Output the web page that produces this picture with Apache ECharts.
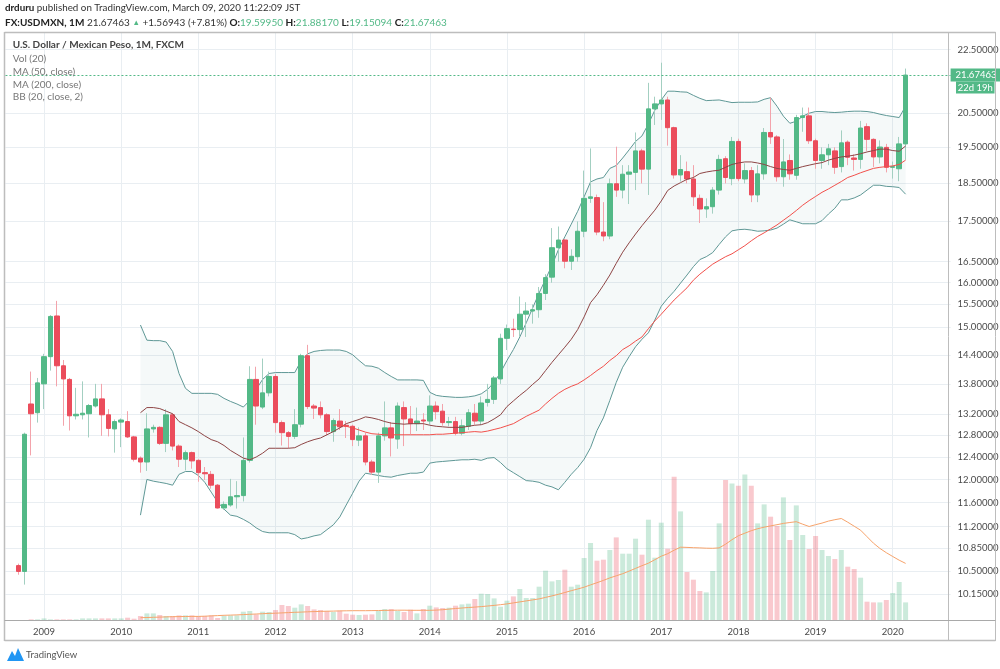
<!DOCTYPE html>
<html><head><meta charset="utf-8">
<script src="https://cdn.jsdelivr.net/npm/echarts@6/dist/echarts.min.js"></script>
<style>html,body{margin:0;padding:0;background:#fff}#c{width:1000px;height:669px}</style>
</head><body><div id="c"></div>
<script>
// ---------------- DATA (monthly USD/MXN, FXCM) ----------------
const firstMonth = '2008-09';
const opens = [10.58,10.49,13.40,13.23,13.80,14.36,15.24,14.17,13.89,13.17,
 13.19,13.21,13.36,13.50,13.19,12.92,13.05,13.06,12.77,12.38,
 12.31,12.92,12.95,12.65,13.19,12.60,12.36,12.48,12.34,12.12,
 12.09,11.90,11.51,11.56,11.70,11.72,12.34,13.89,13.34,13.62,
 13.95,13.04,12.85,12.78,13.01,14.38,13.36,13.33,13.19,12.87,
 13.07,12.99,12.97,12.71,12.79,12.31,12.13,12.79,12.94,12.73,
 13.33,13.11,13.02,13.09,13.07,13.36,13.26,13.04,13.06,12.84,
 12.97,13.22,13.07,13.43,13.49,13.90,14.75,14.95,14.94,15.28,
 15.35,15.38,15.75,16.13,16.84,17.03,16.51,16.62,17.25,18.10,
 18.12,17.23,17.13,18.49,18.32,18.75,18.80,19.40,18.89,20.63,
 20.78,20.90,20.07,18.73,18.82,18.62,18.10,17.82,17.88,18.32,
 19.18,18.63,19.67,18.62,18.85,18.19,18.76,19.93,19.80,18.68,
 19.13,18.72,20.37,20.42,19.69,19.13,19.29,19.40,18.96,19.65,
 19.20,19.16,20.10,19.73,19.23,19.50,18.94,18.90,19.5995];
const closes = [10.49,12.82,13.21,13.82,14.36,15.23,14.17,13.90,13.17,13.20,
 13.22,13.37,13.50,13.19,12.93,13.06,13.09,12.77,12.36,12.31,
 12.92,12.95,12.65,13.19,12.60,12.36,12.48,12.33,12.12,12.10,
 11.90,11.51,11.57,11.70,11.72,12.34,13.89,13.36,13.62,13.95,
 13.04,12.85,12.78,13.00,14.38,13.35,13.32,13.19,12.87,13.08,
 12.96,12.97,12.72,12.79,12.31,12.13,12.79,12.94,12.75,13.36,
 13.11,13.02,13.07,13.07,13.36,13.25,13.04,13.06,12.84,12.98,
 13.23,13.07,13.42,13.49,13.92,14.75,14.96,14.94,15.28,15.35,
 15.38,15.75,16.12,16.84,17.03,16.51,16.63,17.25,18.10,18.14,
 17.23,17.13,18.49,18.32,18.75,18.81,19.40,18.89,20.63,20.78,
 20.90,20.07,18.73,18.88,18.62,18.14,17.82,17.88,18.32,19.16,
 18.66,19.67,18.63,18.85,18.19,18.76,19.93,19.80,18.68,19.09,
 18.76,20.37,20.42,19.69,19.13,19.29,19.46,18.94,19.63,19.22,
 19.16,20.06,19.73,19.23,19.51,18.94,18.96,19.60,21.67463];
const lows = [10.44,10.29,12.43,13.04,13.30,14.07,13.75,12.98,12.89,13.10,
 13.10,12.76,13.33,12.79,12.78,12.48,12.58,12.75,12.32,12.12,
 12.15,12.85,12.62,12.49,12.52,12.22,12.16,12.19,11.96,11.99,
 11.84,11.50,11.48,11.53,11.50,11.62,12.30,13.00,13.30,13.55,
 12.85,12.61,12.56,12.73,12.95,13.30,13.11,13.12,12.80,12.68,
 12.90,12.75,12.60,12.60,12.25,12.08,11.94,12.70,12.41,12.55,
 12.60,12.82,12.88,12.90,13.00,13.10,12.98,12.97,12.80,12.80,
 12.90,13.00,13.00,13.35,13.40,13.80,14.50,14.78,14.78,14.78,
 15.07,15.20,15.60,16.00,16.50,16.34,16.30,16.50,17.10,17.98,
 17.15,17.00,17.05,18.14,18.10,17.95,18.32,18.50,18.19,20.15,
 20.30,19.55,18.63,18.55,18.50,17.90,17.46,17.59,17.70,18.20,
 18.50,18.45,18.56,18.50,18.00,18.00,18.60,19.60,18.55,18.41,
 18.60,18.60,19.95,19.60,18.90,18.90,19.00,18.76,18.80,19.00,
 18.85,18.90,19.40,18.95,19.05,18.80,18.63,18.56,19.15094];
const highs = [10.61,12.85,14.05,13.92,14.42,15.26,15.58,14.29,13.92,13.72,
 13.85,13.40,13.80,13.80,13.30,13.10,13.12,13.26,12.79,12.41,
 13.22,13.00,12.97,13.30,13.22,12.63,12.52,12.50,12.36,12.22,
 12.15,11.92,11.62,12.01,11.97,12.76,14.16,14.15,14.32,14.05,
 14.00,13.08,12.88,13.30,14.42,14.61,13.40,13.45,13.22,13.12,
 13.30,13.07,13.00,12.95,12.85,12.35,12.85,13.45,13.05,13.43,
 13.45,13.36,13.33,13.22,13.57,13.45,13.40,13.15,13.15,13.10,
 13.30,13.40,13.55,13.80,13.96,14.85,15.05,15.18,15.68,15.55,
 15.50,15.90,16.20,17.33,17.37,17.05,16.80,17.50,18.85,19.47,
 18.20,18.00,18.63,19.52,19.00,19.00,19.93,19.46,21.43,21.00,
 22.07,21.00,20.10,19.28,19.10,19.00,18.20,18.10,18.40,19.29,
 19.25,19.80,19.75,19.05,18.95,19.00,20.06,20.97,19.85,19.74,
 19.30,20.45,20.67,20.67,19.75,19.50,19.60,19.50,19.99,19.70,
 19.30,20.27,20.20,19.76,19.70,19.60,19.10,19.80,21.8817];
// volume (relative units)
const volumes = [0,0,1.3,1.3,2.3,1.3,1.3,1.3,1.3,1.3,
 2.3,2.3,2.3,2.3,2.3,2.3,2.3,3,2,4.7,
 7.3,7.3,5.7,4.7,4.7,5.3,5.3,5.3,4.7,4.7,
 5.3,2.7,4.7,5.3,5.3,9,9.7,6.3,9,8.7,
 10.7,15.7,14.7,13,16.3,14.7,11.3,10.7,9.7,8.7,
 10,7,6,5.7,6,6.3,9.7,11.7,11.7,9.7,
 8.7,11,7.3,11.7,15,13.3,12.7,13,15,16.3,
 17,21.7,27,26.7,22.3,14,20,24.3,31.7,22.7,
 22.7,34,50,39.3,40.7,51,34,36,62.7,77.7,
 60,61,70.7,83.3,67,67,82,66,101,63,
 98,72,144,109.3,48.7,41,29.7,28.3,49.7,97.3,
 140.7,137.3,135,146.3,135,97.3,116.3,104,94.7,123.3,
 80.7,115.3,85.7,71.7,84.7,70.7,64.7,61.7,70.7,54,
 51.7,43,19,18.3,18.3,20.7,27.7,38.7,18.3];
const volMaFrom = '2010-04';
const volMa = [3.0,3.2,3.4,3.6,3.8,4.0,4.1,4.2,4.3,4.3,
 4.5,4.8,5.1,5.4,5.6,5.8,6.1,6.4,6.7,7.0,
 7.3,7.5,7.8,8.1,8.4,8.6,8.9,9.1,9.3,9.5,
 9.6,9.8,9.9,10.0,10.0,10.0,10.1,10.2,10.3,10.4,
 10.5,10.5,10.4,10.4,10.4,10.4,10.6,11.0,11.6,12.2,
 12.7,13.2,13.6,14.1,14.7,15.3,16.0,16.8,17.8,18.8,
 19.8,20.8,21.8,23.3,24.8,26.4,28.2,30.0,31.7,33.5,
 35.8,38.0,40.3,42.8,44.9,47.0,49.6,52.3,55.0,57.5,
 61.0,64.5,67.0,70.5,73.5,73.3,73.0,72.8,72.5,72.4,
 72.8,76.5,81.0,85.0,87.5,90.0,92.0,93.5,94.8,96.0,
 97.3,98.2,99.0,96.5,94.2,96.0,97.6,99.6,101.0,102.2,
 98.5,94.5,90.5,84.0,77.5,72.3,68.0,64.2,60.5,57.3];
// Bollinger Bands (20, close, 2)
const bbFrom = '2010-04';
const bbUpper = [15.04,14.71,14.70,14.70,14.67,14.47,14.01,13.71,13.61,13.61,
 13.61,13.61,13.59,13.51,13.45,13.40,13.34,13.47,13.69,13.89,
 14.01,14.03,14.03,14.03,14.03,14.28,14.42,14.47,14.49,14.50,
 14.50,14.50,14.47,14.40,14.28,14.17,14.16,14.12,14.03,13.95,
 13.88,13.88,13.88,13.88,13.87,13.63,13.57,13.55,13.54,13.53,
 13.53,13.54,13.56,13.60,13.69,13.83,14.03,14.28,14.51,14.78,
 15.09,15.42,15.76,16.08,16.41,16.79,17.11,17.43,17.76,18.14,
 18.54,18.62,18.66,18.91,18.99,19.20,19.43,19.67,19.83,20.18,
 20.59,20.90,21.17,21.17,21.15,21.14,21.04,20.95,20.88,20.89,
 20.90,20.86,20.82,20.83,20.83,20.83,20.84,20.92,20.97,20.71,
 20.41,20.20,20.26,20.41,20.50,20.55,20.55,20.53,20.52,20.53,
 20.55,20.56,20.56,20.55,20.52,20.47,20.43,20.40,20.37,20.71];
const bbBasis = [13.23,13.33,13.33,13.31,13.26,13.21,13.06,13.00,12.94,12.87,
 12.79,12.72,12.68,12.61,12.52,12.45,12.38,12.35,12.40,12.47,
 12.56,12.56,12.56,12.56,12.57,12.63,12.68,12.72,12.75,12.81,
 12.87,12.94,13.02,13.06,13.10,13.15,13.13,13.10,13.06,13.03,
 13.02,13.01,13.02,13.02,13.02,12.99,12.97,12.96,12.95,12.95,
 12.95,12.97,12.99,13.00,13.04,13.11,13.19,13.35,13.46,13.57,
 13.67,13.79,13.90,14.07,14.24,14.40,14.56,14.73,14.94,15.22,
 15.54,15.72,15.94,16.18,16.46,16.73,16.96,17.18,17.39,17.59,
 17.79,18.03,18.31,18.43,18.52,18.61,18.66,18.77,18.81,18.84,
 18.86,18.94,19.02,19.06,19.09,19.09,19.06,19.02,18.96,18.91,
 18.88,18.86,18.91,18.96,19.00,19.04,19.07,19.14,19.19,19.23,
 19.25,19.28,19.32,19.37,19.41,19.45,19.45,19.41,19.39,19.54];
const bbLower = [11.39,12.00,11.97,11.95,11.93,11.90,12.09,12.14,12.14,12.07,
 11.95,11.78,11.61,11.49,11.39,11.37,11.32,11.26,11.18,11.12,
 11.10,11.10,11.10,11.10,11.07,11.00,11.02,11.05,11.07,11.15,
 11.23,11.36,11.56,11.76,11.97,12.11,12.09,12.07,12.05,12.04,
 12.07,12.09,12.11,12.11,12.13,12.29,12.31,12.32,12.33,12.34,
 12.35,12.35,12.36,12.34,12.38,12.39,12.30,12.19,12.12,12.05,
 11.98,11.97,11.95,11.90,11.87,11.82,11.95,12.09,12.21,12.36,
 12.57,12.89,13.13,13.47,13.83,14.14,14.36,14.57,14.73,14.87,
 15.15,15.46,15.64,15.80,15.99,16.18,16.38,16.55,16.62,16.72,
 16.92,17.11,17.26,17.29,17.30,17.28,17.25,17.26,17.28,17.33,
 17.43,17.54,17.49,17.44,17.44,17.44,17.52,17.69,17.84,18.06,
 18.06,18.11,18.19,18.32,18.45,18.45,18.42,18.41,18.39,18.21];
// MA (50, close)
const ma50From = '2012-10';
const ma50 = [12.99,13.00,12.97,12.94,12.90,12.86,12.83,12.82,12.81,12.81,
 12.81,12.81,12.81,12.81,12.81,12.81,12.82,12.82,12.83,12.84,
 12.85,12.86,12.87,12.86,12.88,12.91,12.94,12.98,13.02,13.09,
 13.16,13.22,13.28,13.40,13.51,13.61,13.69,13.75,13.80,13.88,
 13.97,14.07,14.16,14.28,14.38,14.51,14.59,14.69,14.78,14.96,
 15.13,15.28,15.44,15.60,15.74,15.88,16.06,16.20,16.32,16.44,
 16.53,16.62,16.69,16.79,16.89,17.01,17.12,17.21,17.31,17.41,
 17.53,17.65,17.78,17.92,18.04,18.15,18.26,18.35,18.45,18.55,
 18.66,18.72,18.79,18.85,18.91,18.94,18.96,18.98,19.02,19.14];
const priceTicks = [22.5,20.5,19.5,18.5,17.5,16.5,16,15.5,15,14.4,13.8,13.2,12.8,12.4,12,11.6,11.2,10.85,10.5,10.15];

// ---------------- BUILD ----------------
const FONT = "Lato,'Liberation Sans',sans-serif";
const UP = '#53b987', DOWN = '#eb4d5c';
const UP_WICK = '#a3cfc1', DOWN_WICK = '#f3a3ab';
const UP_VOL = 'rgba(83,185,135,0.30)', DOWN_VOL = 'rgba(235,77,92,0.30)';
const GRID = '#e9eef2', BORDER = '#bdbdbd';

const cats = [];
(function () { let y = 2008, m = 7; while (y < 2020 || (y === 2020 && m <= 10)) { cats.push(y + '-' + String(m).padStart(2, '0')); m++; if (m > 12) { m = 1; y++; } } })();
const off = cats.indexOf(firstMonth);
function align(from, arr) { const out = cats.map(() => '-'); const s = cats.indexOf(from); arr.forEach((v, i) => { out[s + i] = v; }); return out; }

const wickData = cats.map(() => ['-', '-', '-', '-']);
const bodyData = cats.map(() => ['-', '-', '-', '-']);
opens.forEach((o, i) => {
  const c = closes[i];
  wickData[off + i] = [o, c, lows[i], highs[i]];
  bodyData[off + i] = [o, c, Math.min(o, c), Math.max(o, c)];
});
const volData = align(firstMonth, volumes).map((v, idx) => {
  if (v === '-') return '-';
  const k = idx - off;
  return { value: v, itemStyle: { color: closes[k] >= opens[k] ? UP_VOL : DOWN_VOL } };
});
const bbBandWidth = bbUpper.map((u, i) => +(u - bbLower[i]).toFixed(4));
const last = closes.length - 1;
const isJan = (idx, val) => String(val).endsWith('-01');

const gridLeft = 5.44, gridWidth = 945.17;
const HF = 10; // header font size

const option = {
  animation: false,
  backgroundColor: '#fff',
  textStyle: { fontFamily: FONT },
  title: [
    { left: 0, top: -2, text: '{b|drduru} published on TradingView.com, March 09, 2020 11:22:09 JST',
      textStyle: { fontSize: 9.8, fontWeight: 'normal', color: '#333', fontFamily: FONT,
        rich: { b: { fontSize: 9.8, fontWeight: 'bold', color: '#222', fontFamily: FONT } } } },
    { left: 0, top: 12.5,
      text: '{b|FX:USDMXN, 1M} ' + closes[last].toFixed(5) + ' {t|▲} +1.56943 (+7.81%) {b|O:}{g|' + opens[last].toFixed(5) + '} {b|H:}{g|' + highs[last].toFixed(5) + '} {b|L:}{g|' + lows[last].toFixed(5) + '} {b|C:}{g|' + closes[last].toFixed(5) + '}',
      textStyle: { fontSize: HF, fontWeight: 'normal', color: '#333', fontFamily: FONT,
        rich: { b: { fontSize: HF, fontWeight: 'bold', color: '#222', fontFamily: FONT },
                g: { fontSize: HF, color: UP, fontFamily: FONT },
                t: { fontSize: 7.5, color: UP, fontFamily: FONT } } } }
  ],
  grid: [
    { left: gridLeft, top: 32.7, width: gridWidth, height: 588 },
    { left: gridLeft, top: 420.7, width: gridWidth, height: 200 }
  ],
  xAxis: [
    { type: 'category', gridIndex: 0, data: cats, boundaryGap: false,
      axisLine: { show: false }, axisTick: { show: false },
      axisLabel: { interval: isJan, formatter: v => v.slice(0, 4), color: '#4a4a4a', fontSize: 9.5, fontFamily: FONT, margin: 6 },
      splitLine: { show: true, interval: isJan, lineStyle: { color: GRID, width: 1 } } },
    { type: 'category', gridIndex: 1, data: cats, boundaryGap: false, show: false }
  ],
  yAxis: [
    { type: 'log', logBase: 10, gridIndex: 0, min: 9.761, max: 23.06, position: 'right',
      axisLine: { show: false }, axisTick: { show: false }, axisLabel: { show: false }, splitLine: { show: false } },
    { type: 'value', gridIndex: 1, min: 0, max: 200, show: false, splitLine: { show: false } }
  ],
  series: [
    { name: 'Vol', type: 'bar', xAxisIndex: 1, yAxisIndex: 1, data: volData, barWidth: 5, z: 1, silent: true },
    { name: 'Vol MA', type: 'line', xAxisIndex: 1, yAxisIndex: 1, data: align(volMaFrom, volMa), symbol: 'none',
      lineStyle: { color: '#f7a36b', width: 1 }, z: 2, silent: true },
    { name: 'BB lower', type: 'line', data: align(bbFrom, bbLower), stack: 'bb', symbol: 'none',
      lineStyle: { color: '#5f9896', width: 1 }, z: 2, silent: true,
      markLine: { silent: true, symbol: 'none', z: 1, animation: false, precision: 5,
        lineStyle: { color: GRID, type: 'solid', width: 1 },
        label: { position: 'end', distance: 7, color: '#4a4a4a', fontSize: 9.5, fontFamily: FONT, formatter: p => Number(p.value).toFixed(5) },
        emphasis: { disabled: true },
        data: priceTicks.map(v => ({ yAxis: v })) } },
    { name: 'BB fill', type: 'line', data: align(bbFrom, bbBandWidth), stack: 'bb', symbol: 'none',
      lineStyle: { width: 0, opacity: 0 }, areaStyle: { color: 'rgba(40,130,130,0.065)' }, z: 1, silent: true },
    { name: 'BB upper', type: 'line', data: align(bbFrom, bbUpper), symbol: 'none',
      lineStyle: { color: '#5f9896', width: 1 }, z: 2, silent: true },
    { name: 'wicks', type: 'candlestick', data: wickData, barWidth: 1, z: 3, silent: true,
      itemStyle: { color: UP_WICK, color0: DOWN_WICK, borderColor: UP_WICK, borderColor0: DOWN_WICK, borderWidth: 1 } },
    { name: 'bodies', type: 'candlestick', data: bodyData, barWidth: 5, z: 4, silent: true,
      itemStyle: { color: UP, color0: DOWN, borderColor: UP, borderColor0: DOWN, borderWidth: 1 },
      markLine: { silent: true, symbol: 'none', animation: false, precision: 5,
        lineStyle: { color: UP, type: [2, 2], width: 1 },
        label: { position: 'end', distance: 0, color: '#fff', backgroundColor: UP, padding: [2, 5, 1, 5], fontSize: 9.5, fontFamily: FONT, formatter: p => Number(p.value).toFixed(5) },
        emphasis: { disabled: true },
        data: [{ yAxis: closes[last] }] } },
    { name: 'BB basis', type: 'line', data: align(bbFrom, bbBasis), symbol: 'none',
      lineStyle: { color: '#8e4545', width: 1 }, z: 5, silent: true },
    { name: 'MA 50', type: 'line', data: align(ma50From, ma50), symbol: 'none',
      lineStyle: { color: '#f2504b', width: 1 }, z: 5, silent: true }
  ],
  graphic: [
    { type: 'line', shape: { x1: 4.5, y1: 32.5, x2: 995.5, y2: 32.5 }, style: { stroke: BORDER, lineWidth: 1.5 }, z: 50, silent: true },
    { type: 'line', shape: { x1: 4.5, y1: 32, x2: 4.5, y2: 641 }, style: { stroke: BORDER, lineWidth: 1.5 }, z: 50, silent: true },
    { type: 'line', shape: { x1: 948.5, y1: 32, x2: 948.5, y2: 641 }, style: { stroke: BORDER, lineWidth: 1 }, z: 50, silent: true },
    { type: 'line', shape: { x1: 995.5, y1: 32, x2: 995.5, y2: 641 }, style: { stroke: BORDER, lineWidth: 1 }, z: 50, silent: true },
    { type: 'line', shape: { x1: 4.5, y1: 620.5, x2: 995.5, y2: 620.5 }, style: { stroke: '#a9a9a9', lineWidth: 1 }, z: 50, silent: true },
    { type: 'line', shape: { x1: 4.5, y1: 640.5, x2: 995.5, y2: 640.5 }, style: { stroke: BORDER, lineWidth: 1.5 }, z: 50, silent: true },
    { type: 'text', x: 12.7, y: 45, z: 100, silent: true, style: { text: 'U.S. Dollar / Mexican Peso, 1M, FXCM', font: 'bold 10px ' + FONT, fill: '#444', verticalAlign: 'middle' } },
    { type: 'text', x: 12.7, y: 59, z: 100, silent: true, style: { text: 'Vol (20)', font: '10px ' + FONT, fill: '#777', verticalAlign: 'middle' } },
    { type: 'text', x: 12.7, y: 71.7, z: 100, silent: true, style: { text: 'MA (50, close)', font: '10px ' + FONT, fill: '#777', verticalAlign: 'middle' } },
    { type: 'text', x: 12.7, y: 84.3, z: 100, silent: true, style: { text: 'MA (200, close)', font: '10px ' + FONT, fill: '#777', verticalAlign: 'middle' } },
    { type: 'text', x: 12.7, y: 96.7, z: 100, silent: true, style: { text: 'BB (20, close, 2)', font: '10px ' + FONT, fill: '#777', verticalAlign: 'middle' } },
    { type: 'rect', shape: { x: 956, y: 81.5, width: 38.5, height: 12 }, style: { fill: UP }, z: 60, silent: true },
    { type: 'text', x: 975.2, y: 87.7, z: 61, silent: true, style: { text: '22d 19h', font: '9.5px ' + FONT, fill: '#fff', align: 'center', verticalAlign: 'middle' } },
    { type: 'polygon', shape: { points: [[7, 661], [12, 651], [15, 656], [18, 648], [24, 661]] }, style: { fill: '#2196f3' }, silent: true },
    { type: 'text', x: 26, y: 655, silent: true, style: { text: 'TradingView', font: '9.5px ' + FONT, fill: '#555', verticalAlign: 'middle' } }
  ]
};
const chart = echarts.init(document.getElementById('c'), null, { renderer: 'canvas' });
chart.setOption(option);
</script>
</body></html>
